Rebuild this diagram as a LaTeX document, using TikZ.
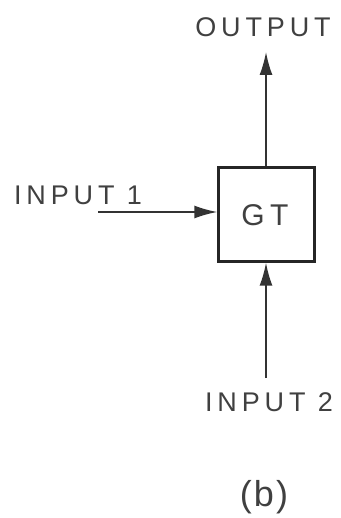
\documentclass[tikz,border=0pt]{standalone}
\usepackage{fontspec}
\setmainfont{Liberation Sans}[LetterSpace=18]
\newfontfamily\capfont{Liberation Sans}[LetterSpace=6]
\usetikzlibrary{arrows.meta}
\begin{document}
\begin{tikzpicture}[x=1pt,y=-1pt,
  lbl/.style={text=black!75, font=\fontsize{27}{30}\selectfont, inner sep=0pt, anchor=center},
  blk/.style={draw=black!85, line width=2.4pt, minimum width=96pt, minimum height=94pt, inner sep=0pt},
  conn/.style={draw=black!80, line width=1.6pt, -{Latex[length=23pt,width=13pt]}}]
\useasboundingbox (0,0) rectangle (340,518);
\node[blk] (gt) at (266.5,214.5) {};
\node[lbl, font=\fontsize{30}{34}\selectfont] (gtl) at (265,215) {GT};
\node[lbl] (out) at (263,27) {OUTPUT};
\node[lbl] (in1) at (78,195) {INPUT 1};
\node[lbl] (in2) at (269,402) {INPUT 2};
\node[lbl, font=\capfont\fontsize{36}{40}\selectfont] (cap) at (264,497) {(b)};
\coordinate (outtip) at (266,52);
\coordinate (in1tail) at (98,212);
\coordinate (in2tail) at (266,378);
\draw[conn] (gt.north -| outtip) -- (outtip);
\draw[conn] (in1tail) -- (in1tail -| gt.west);
\draw[conn] (in2tail) -- (in2tail |- gt.south);
\end{tikzpicture}
\end{document}
